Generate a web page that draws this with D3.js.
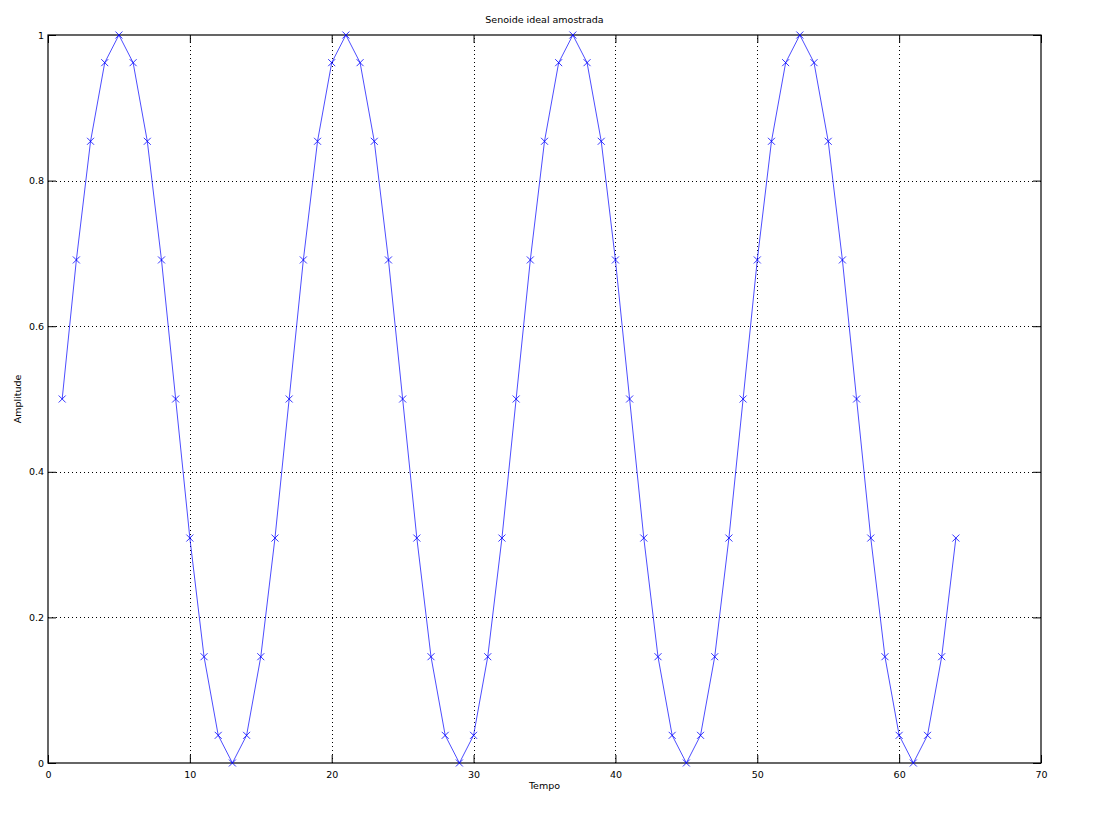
<!DOCTYPE html>
<html>
<head>
<meta charset="utf-8">
<script src="https://cdn.jsdelivr.net/npm/d3@7"></script>
<style>
  body { margin: 0; background: #fff; }
  #content { width: 1100px; height: 834px; }
  text { font-family: "DejaVu Sans", sans-serif; font-size: 9.5px; fill: #000; }
</style>
</head>
<body>
<div id="content"></div>
<script>
var title = "Senoide ideal amostrada";
var xLabel = "Tempo";
var yLabel = "Amplitude";
var xTicks = [0, 10, 20, 30, 40, 50, 60, 70];
var yTicks = [0, 0.2, 0.4, 0.6, 0.8, 1];
var yTickLabels = ["0", "0.2", "0.4", "0.6", "0.8", "1"];
var samples = [1, 2, 3, 4, 5, 6, 7, 8, 9, 10, 11, 12, 13, 14, 15, 16,
    17, 18, 19, 20, 21, 22, 23, 24, 25, 26, 27, 28, 29, 30, 31, 32,
    33, 34, 35, 36, 37, 38, 39, 40, 41, 42, 43, 44, 45, 46, 47, 48,
    49, 50, 51, 52, 53, 54, 55, 56, 57, 58, 59, 60, 61, 62, 63, 64];
var amplitude = [0.5, 0.691, 0.854, 0.962, 1, 0.962, 0.854, 0.691, 0.5, 0.309, 0.146, 0.038, 0, 0.038, 0.146, 0.309,
    0.5, 0.691, 0.854, 0.962, 1, 0.962, 0.854, 0.691, 0.5, 0.309, 0.146, 0.038, 0, 0.038, 0.146, 0.309,
    0.5, 0.691, 0.854, 0.962, 1, 0.962, 0.854, 0.691, 0.5, 0.309, 0.146, 0.038, 0, 0.038, 0.146, 0.309,
    0.5, 0.691, 0.854, 0.962, 1, 0.962, 0.854, 0.691, 0.5, 0.309, 0.146, 0.038, 0, 0.038, 0.146, 0.309];

(function(d3) {
    var width = 1100, height = 834;
    var margin = {top: 35, right: 59, bottom: 71, left: 48};

    var svg = d3.select("#content").append("svg")
        .attr("viewBox", [0, 0, width, height])
        .attr("width", width).attr("height", height);

    var x = d3.scaleLinear().domain([0, 70]).range([margin.left, width - margin.right]);
    var y = d3.scaleLinear().domain([0, 1]).range([height - margin.bottom, margin.top]);
    var data = samples.map(function(s, i) { return [s, amplitude[i]]; });

    // dotted grid
    var grid = svg.append("g").attr("stroke", "#000").attr("stroke-width", 1)
        .attr("stroke-dasharray", "1,3").attr("shape-rendering", "crispEdges");
    grid.selectAll(".gx").data(xTicks.slice(1, -1)).enter().append("line")
        .attr("x1", function(d) { return Math.round(x(d)) + 0.5; })
        .attr("x2", function(d) { return Math.round(x(d)) + 0.5; })
        .attr("y1", y(0)).attr("y2", y(1));
    grid.selectAll(".gy").data(yTicks.slice(1, -1)).enter().append("line")
        .attr("y1", function(d) { return Math.round(y(d)) + 0.5; })
        .attr("y2", function(d) { return Math.round(y(d)) + 0.5; })
        .attr("x1", x(0)).attr("x2", x(70));

    // axes with inward ticks, mirrored
    var tl = 8;
    svg.append("g").attr("transform", "translate(0," + y(0) + ")")
        .call(d3.axisBottom(x).tickValues(xTicks).tickSize(-tl).tickPadding(8).tickFormat(d3.format("d")));
    svg.append("g").attr("transform", "translate(0," + y(1) + ")")
        .call(d3.axisTop(x).tickValues(xTicks).tickSize(-tl).tickFormat(""));
    svg.append("g").attr("transform", "translate(" + x(0) + ",0)")
        .call(d3.axisLeft(y).tickValues(yTicks).tickSize(-tl).tickPadding(4)
            .tickFormat(function(d, i) { return yTickLabels[i]; }));
    svg.append("g").attr("transform", "translate(" + x(70) + ",0)")
        .call(d3.axisRight(y).tickValues(yTicks).tickSize(-tl).tickFormat(""));
    svg.selectAll(".domain").remove();
    svg.selectAll(".tick line").attr("stroke", "#000").attr("stroke-width", 1);
    svg.selectAll(".tick text").attr("font-family", "DejaVu Sans, sans-serif").attr("font-size", 9.5);

    svg.append("rect")
        .attr("x", x(0)).attr("y", y(1))
        .attr("width", x(70) - x(0)).attr("height", y(0) - y(1))
        .attr("fill", "none").attr("stroke", "#000").attr("stroke-width", 1.2);

    // series
    svg.append("path")
        .datum(data)
        .attr("fill", "none")
        .attr("stroke", "#0000ff")
        .attr("stroke-width", 0.7)
        .attr("d", d3.line()
            .x(function(d) { return x(d[0]); })
            .y(function(d) { return y(d[1]); }));

    var m = 3.5;
    svg.append("g").selectAll("path").data(data).enter().append("path")
        .attr("stroke", "#0000ff").attr("stroke-width", 0.8).attr("fill", "none")
        .attr("d", function(d) {
            var cx = x(d[0]), cy = y(d[1]);
            return "M" + (cx - m) + "," + (cy - m) + "L" + (cx + m) + "," + (cy + m) +
                "M" + (cx - m) + "," + (cy + m) + "L" + (cx + m) + "," + (cy - m);
        });

    svg.append("text").attr("x", (x(0) + x(70)) / 2).attr("y", 23)
        .attr("text-anchor", "middle").text(title);
    svg.append("text").attr("x", (x(0) + x(70)) / 2).attr("y", 789)
        .attr("text-anchor", "middle").text(xLabel);
    svg.append("text").attr("transform", "translate(21," + (y(0) + y(1)) / 2 + ") rotate(-90)")
        .attr("text-anchor", "middle").text(yLabel);
})(d3);
</script>
</body>
</html>
